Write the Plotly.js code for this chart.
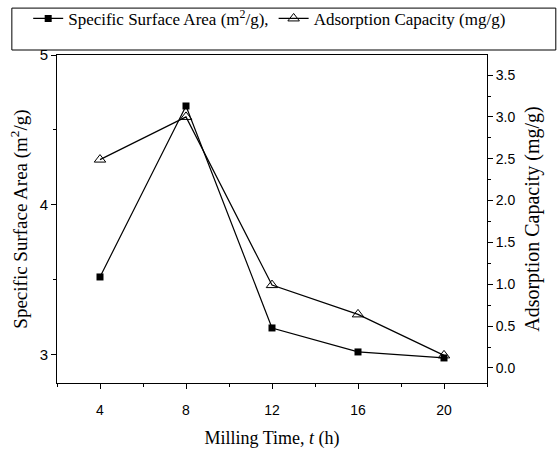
<!DOCTYPE html>
<html>
<head>
<meta charset="utf-8">
<script src="https://cdn.plot.ly/plotly-3.0.1.min.js"></script>
<style>html,body{margin:0;padding:0;background:#fff;}#chart{width:558px;height:455px;}</style>
</head>
<body>
<div id="chart"></div>
<script>
const millingTime = [4, 8, 12, 16, 20];
const surfaceArea = [3.52, 4.66, 3.18, 3.02, 2.98];
const adsorptionCapacity = [2.49, 3.0, 0.99, 0.64, 0.15];

const serif = 'Liberation Serif, Times New Roman, serif';
const sans = 'Liberation Sans, Arial, sans-serif';

const traces = [
  {
    x: millingTime, y: surfaceArea, type: 'scatter', mode: 'lines+markers',
    name: 'Specific Surface Area (m<sup>2</sup>/g),',
    line: {color: '#000', width: 1.2},
    marker: {symbol: 'square', size: 7, color: '#000'},
    yaxis: 'y'
  },
  {
    x: millingTime, y: adsorptionCapacity, type: 'scatter', mode: 'lines+markers',
    name: 'Adsorption Capacity (mg/g)',
    line: {color: '#000', width: 1.2},
    marker: {symbol: 'triangle-up-open', size: 10, color: '#000', line: {width: 1}},
    yaxis: 'y2'
  }
];

const layout = {
  width: 558, height: 455,
  margin: {l: 57, r: 71, t: 55, b: 72, autoexpand: false},
  paper_bgcolor: '#fff', plot_bgcolor: '#fff',
  showlegend: true,
  legend: {
    orientation: 'h', x: -0.067, xanchor: 'left', y: 1.165, yanchor: 'top',
    font: {family: serif, size: 17, color: '#000'},
    bgcolor: 'rgba(0,0,0,0)', borderwidth: 0
  },
  shapes: [{
    type: 'rect', xref: 'paper', yref: 'paper',
    x0: -0.105, x1: 1.16, y0: 1.0152, y1: 1.143,
    line: {color: '#000', width: 1}
  }],
  xaxis: {
    range: [2, 22], tickvals: [4, 8, 12, 16, 20],
    ticks: 'outside', ticklen: 5, tickwidth: 1, tickcolor: '#000',
    ticklabelstandoff: 9, automargin: false,
    minor: {tickvals: [2, 6, 10, 14, 18, 22], ticks: 'outside', ticklen: 3, tickcolor: '#000'},
    showline: true, linecolor: '#000', linewidth: 1, mirror: true,
    showgrid: false, zeroline: false,
    tickfont: {family: sans, size: 14, color: '#000'},
    title: {text: 'Milling Time, <i>t</i> (h)', font: {family: serif, size: 18, color: '#000'}, standoff: 14}
  },
  yaxis: {
    range: [2.813, 5], tickvals: [3, 4, 5],
    ticks: 'outside', ticklen: 5, tickwidth: 1, tickcolor: '#000',
    automargin: false,
    minor: {tickvals: [3.5, 4.5], ticks: 'outside', ticklen: 3, tickcolor: '#000'},
    showline: true, linecolor: '#000', linewidth: 1,
    showgrid: false, zeroline: false,
    tickfont: {family: sans, size: 15, color: '#000'},
    title: {text: 'Specific Surface Area (m<sup>2</sup>/g)', font: {family: serif, size: 19, color: '#000'}, standoff: 7}
  },
  yaxis2: {
    overlaying: 'y', side: 'right',
    range: [-0.18, 3.74], tickvals: [0, 0.5, 1, 1.5, 2, 2.5, 3, 3.5], tickformat: '.1f',
    ticks: 'outside', ticklen: 5, tickwidth: 1, tickcolor: '#000',
    automargin: false,
    minor: {dtick: 0.25, tick0: 0, ticks: 'outside', ticklen: 3, tickcolor: '#000'},
    showline: true, linecolor: '#000', linewidth: 1,
    showgrid: false, zeroline: false,
    tickfont: {family: sans, size: 14, color: '#000'},
    title: {text: 'Adsorption Capacity (mg/g)', font: {family: serif, size: 20, color: '#000'}, standoff: 10}
  }
};

Plotly.newPlot('chart', traces, layout, {displayModeBar: false, staticPlot: true});
</script>
</body>
</html>
